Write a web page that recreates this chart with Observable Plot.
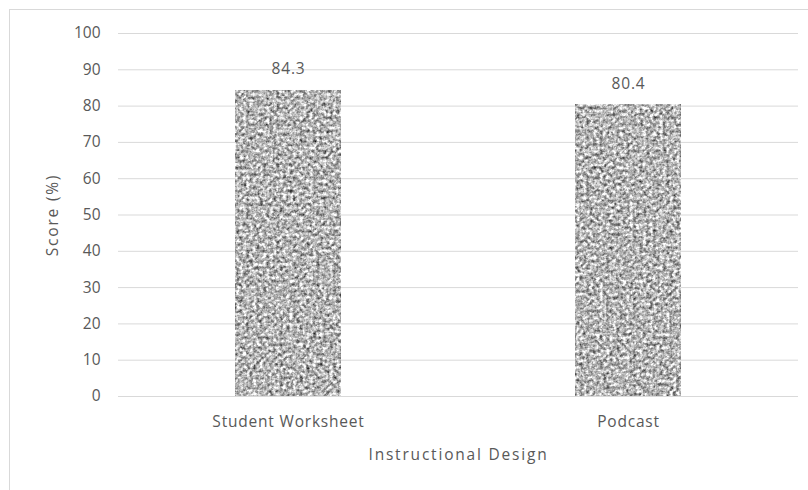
<!DOCTYPE html>
<html>
<head>
<meta charset="utf-8">
<script src="https://cdn.jsdelivr.net/npm/d3@7"></script>
<script src="https://cdn.jsdelivr.net/npm/@observablehq/plot@0.6"></script>
<style>
  html, body { margin: 0; padding: 0; background: #fff; }
  #wrap { position: relative; width: 808px; height: 490px; overflow: hidden; }
  #frame { position: absolute; left: 9px; top: 9px; width: 820px; height: 500px;
           border-top: 1px solid #d9d9d9; border-left: 1px solid #d9d9d9; pointer-events: none; }
  svg { font-family: "Open Sans", sans-serif; }
</style>
</head>
<body>
<div id="wrap"><div id="frame"></div></div>
<script>
const categories = ["Student Worksheet", "Podcast"];
const scores = [84.3, 80.4];
const yTicks = [0, 10, 20, 30, 40, 50, 60, 70, 80, 90, 100];

const data = categories.map((c, i) => ({design: c, score: scores[i]}));
const textColor = "#595959";

const chart = Plot.plot({
  width: 808,
  height: 490,
  marginTop: 33,
  marginBottom: 94,
  marginLeft: 118,
  marginRight: 10,
  style: {fontFamily: "'Open Sans', sans-serif", fontSize: "15.5px", color: textColor, background: "transparent"},
  x: {domain: categories, paddingInner: 0.688, paddingOuter: 0.344},
  y: {domain: [0, 100]},
  marks: [
    Plot.gridY(yTicks, {stroke: "#d9d9d9", strokeOpacity: 1}),
    Plot.barY(data, {x: "design", y: "score", fill: "#a0a0a0", className: "granite"}),
    Plot.ruleY([0], {stroke: "#d9d9d9", strokeOpacity: 1}),
    Plot.text(data, {x: "design", y: "score", text: d => d.score.toFixed(1), dy: -21, fill: textColor, fontSize: 15.5, className: "vlabel"}),
    Plot.axisY(yTicks, {tickSize: 0, tickPadding: 18, label: "Score (%)", labelAnchor: "center", labelArrow: "none", labelOffset: 72, fill: textColor, className: "yax"}),
    Plot.axisX({tickSize: 0, tickPadding: 19, label: "Instructional Design", labelAnchor: "center", labelArrow: "none", labelOffset: 63, fill: textColor, className: "xax"})
  ]
});

const svg = d3.select(chart);
const defs = svg.insert("defs", ":first-child");
const f = defs.append("filter").attr("id", "granite-f")
  .attr("x", 0).attr("y", 0).attr("width", 1).attr("height", 1)
  .attr("color-interpolation-filters", "sRGB");
f.append("feTurbulence").attr("type", "fractalNoise").attr("baseFrequency", 0.3)
  .attr("numOctaves", 3).attr("seed", 11).attr("result", "noise");
f.append("feColorMatrix").attr("in", "noise").attr("type", "matrix")
  .attr("values", "0.6 0.4 0 0 0  0.6 0.4 0 0 0  0.6 0.4 0 0 0  0 0 0 0 1").attr("result", "gray");
const ct = f.append("feComponentTransfer").attr("in", "gray").attr("result", "contrast");
["feFuncR", "feFuncG", "feFuncB"].forEach(n =>
  ct.append(n).attr("type", "linear").attr("slope", 1.7).attr("intercept", -0.14));
f.append("feGaussianBlur").attr("in", "contrast").attr("stdDeviation", 0.45).attr("result", "soft");
f.append("feComposite").attr("in", "soft").attr("in2", "SourceGraphic").attr("operator", "in");
svg.selectAll(".granite rect").attr("filter", "url(#granite-f)");

// letter spacing to mimic the original rendering
svg.selectAll(".xax text").attr("letter-spacing", "0.8px");
svg.selectAll(".vlabel text").attr("letter-spacing", "0.8px");
svg.selectAll("[aria-label='x-axis label'] text, [aria-label='y-axis label'] text").attr("letter-spacing", "1.8px");

document.getElementById("wrap").appendChild(chart);
chart.style.position = "absolute";
chart.style.left = "0";
chart.style.top = "0";
</script>
</body>
</html>
